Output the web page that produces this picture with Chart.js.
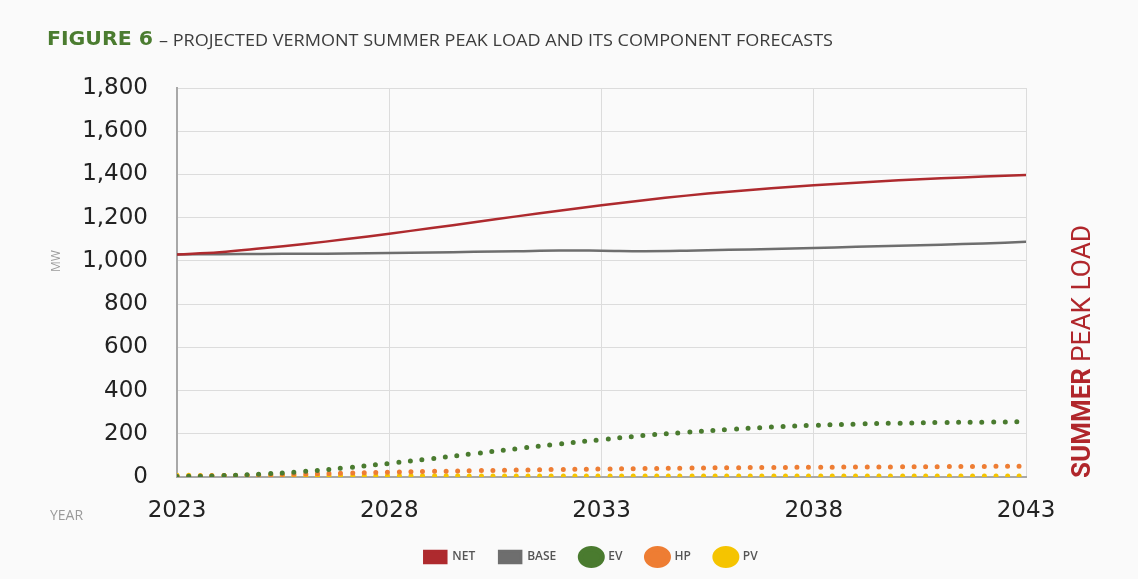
<!DOCTYPE html>
<html>
<head>
<meta charset="utf-8">
<script src="https://cdn.jsdelivr.net/npm/chart.js@4.4.0/dist/chart.umd.min.js"></script>
<style>
  html, body { margin: 0; padding: 0; background: #fafafa; }
  canvas { display: block; }
</style>
</head>
<body>
<canvas id="peakChart" width="1138" height="579"></canvas>
<script>
// Summer peak load (MW) by year
const years = [2023, 2024, 2025, 2026, 2027, 2028, 2029, 2030, 2031, 2032, 2033,
               2034, 2035, 2036, 2037, 2038, 2039, 2040, 2041, 2042, 2043];
const net  = [1030, 1040, 1058, 1078, 1101, 1126, 1152, 1179, 1206, 1232, 1257,
              1281, 1302, 1320, 1336, 1350, 1362, 1373, 1382, 1390, 1397];
const base = [1030, 1031, 1032, 1033, 1034, 1036, 1039, 1042, 1045, 1048, 1047,
              1045, 1047, 1051, 1055, 1060, 1065, 1070, 1075, 1081, 1088];
const ev   = [2, 6, 14, 26, 43, 63, 85, 108, 131, 153, 173,
              192, 207, 220, 231, 239, 245, 249, 252, 254, 256];
const hp   = [3, 6, 10, 14, 18, 22, 26, 29, 32, 35, 37,
              39, 41, 43, 44, 45, 46, 47, 48, 49, 50];
const pv   = [8, 7, 7, 6, 6, 6, 6, 5, 5, 5, 5,
              5, 5, 5, 5, 5, 5, 5, 5, 5, 5];
const yTicks = [0, 200, 400, 600, 800, 1000, 1200, 1400, 1600, 1800];

const pts = arr => years.map((y, i) => ({ x: y, y: arr[i] }));

function solid(label, data, color) {
  return {
    label, data: pts(data),
    borderColor: color, backgroundColor: color,
    borderWidth: 2.5, pointRadius: 0, tension: 0.4,
    pointStyle: 'rect'
  };
}
function dotted(label, data, color) {
  return {
    label, data: pts(data),
    borderColor: color, backgroundColor: color,
    borderWidth: 5, borderDash: [0, 11.7], borderCapStyle: 'round',
    pointRadius: 0, tension: 0.4, pointStyle: 'circle'
  };
}

// stretch/squeeze a string to a given width
function fitText(c, text, x, y, width) {
  const w = c.measureText(text).width;
  c.save();
  c.translate(x, y);
  c.scale(width / w, 1);
  c.fillText(text, 0, 0);
  c.restore();
}

// titles and side labels drawn on the canvas
const decorations = {
  id: 'decorations',
  beforeInit(chart) {
    const lg = chart.legend;
    const fit = lg.fit;
    lg.fit = function () { fit.call(this); this.height = 42; };
  },
  afterLayout(chart) {
    const lg = chart.legend;
    lg.left = 166; lg.right = 1016;
    lg.top = 527; lg.bottom = 569;
  },
  afterDraw(chart) {
    const c = chart.ctx;
    c.save();
    c.textBaseline = 'middle';
    c.textAlign = 'left';
    c.fillStyle = '#4b7c30';
    c.font = 'bold 19px "DejaVu Sans", sans-serif';
    fitText(c, 'FIGURE 6', 47, 40, 106);
    c.fillStyle = '#3c3c3c';
    c.font = '17px "Liberation Sans Narrow", "Open Sans", sans-serif';
    fitText(c, '– PROJECTED VERMONT SUMMER PEAK LOAD AND ITS COMPONENT FORECASTS', 159, 41, 674);

    c.fillStyle = '#9a9a9a';
    c.font = '14px "Open Sans", sans-serif';
    c.fillText('YEAR', 50, 516, 44);

    c.save();
    c.translate(57, 261);
    c.rotate(-Math.PI / 2);
    c.textAlign = 'center';
    c.font = '12px "Open Sans", sans-serif';
    c.fillText('MW', 0, 0);
    c.restore();

    c.save();
    c.translate(1084, 478);
    c.rotate(-Math.PI / 2);
    c.fillStyle = '#b0262b';
    c.font = 'bold 25px "Liberation Sans Narrow", "Roboto", sans-serif';
    fitText(c, 'SUMMER', 0, 0, 110);
    c.font = '25px "Liberation Sans Narrow", "Roboto", sans-serif';
    fitText(c, 'PEAK LOAD', 116, 0, 137);
    c.restore();
    c.restore();
  }
};

new Chart(document.getElementById('peakChart'), {
  type: 'line',
  data: {
    datasets: [
      solid('NET', net, '#ae2a2e'),
      solid('BASE', base, '#6e6e6e'),
      dotted('EV', ev, '#4a7b2f'),
      dotted('HP', hp, '#ee7d33'),
      dotted('PV', pv, '#f5c400')
    ]
  },
  options: {
    responsive: false,
    animation: false,
    devicePixelRatio: 1,
    layout: { padding: { top: 88, right: 112, left: 0, bottom: 0 } },
    plugins: {
      legend: {
        position: 'bottom',
        labels: {
          usePointStyle: true,
          pointStyleWidth: 22,
          padding: 24,
          color: '#555',
          font: { family: '"Open Sans", sans-serif', size: 12, weight: '600' }
        }
      },
      tooltip: { enabled: false }
    },
    scales: {
      x: {
        type: 'linear',
        min: 2023, max: 2043,
        afterFit: s => { s.height = 60; },
        ticks: {
          stepSize: 5,
          padding: 20,
          color: '#222',
          font: { family: '"DejaVu Sans", sans-serif', size: 23 },
          callback: v => String(v)
        },
        grid: { color: '#dcdcdc', drawTicks: false },
        border: { color: '#a8a8a8', width: 2 }
      },
      y: {
        min: 0, max: 1800,
        afterFit: s => { s.width = 177; },
        afterBuildTicks: s => { s.ticks = yTicks.map(v => ({ value: v })); },
        ticks: {
          padding: 29,
          color: '#222',
          font: { family: '"DejaVu Sans", sans-serif', size: 23 },
          callback: v => v.toLocaleString('en-US')
        },
        grid: { color: '#dcdcdc', drawTicks: false },
        border: { color: '#a8a8a8', width: 2 }
      }
    }
  },
  plugins: [decorations]
});
</script>
</body>
</html>
